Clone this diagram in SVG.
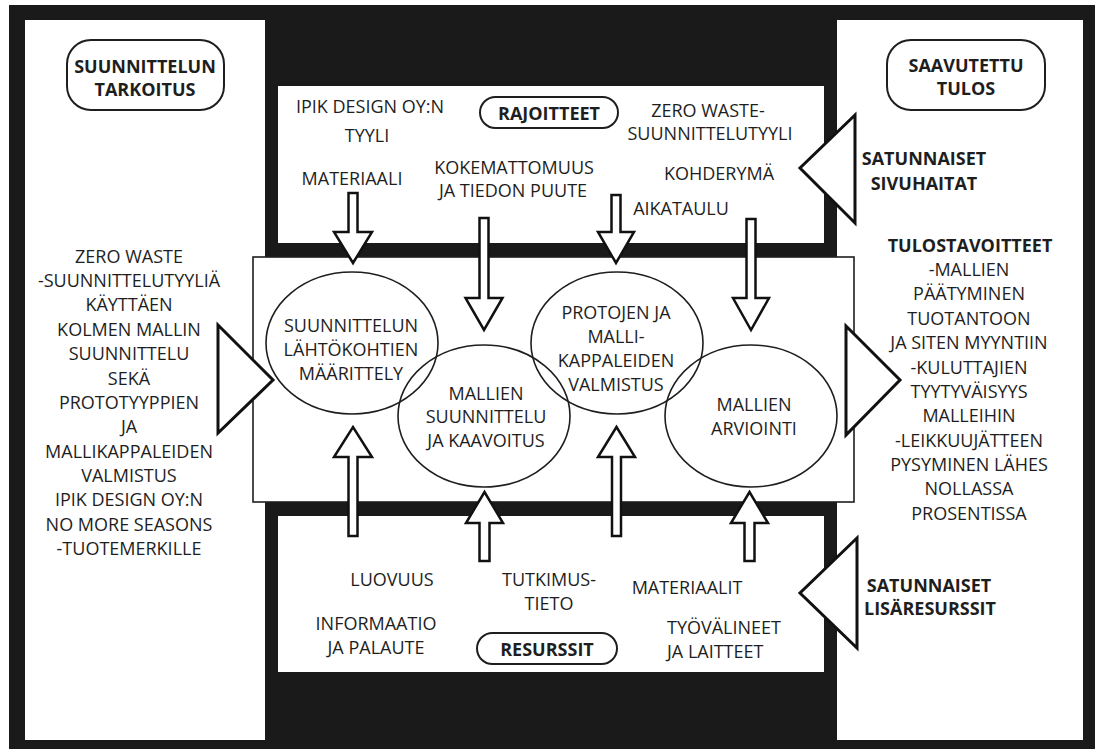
<svg xmlns="http://www.w3.org/2000/svg" width="1095" height="749" viewBox="0 0 1095 749">
<style>
.t{font-family:"Open Sans","Noto Sans","DejaVu Sans",sans-serif;font-size:18px;fill:#1e1e1e;text-anchor:middle}
.b{font-weight:bold}
.s{text-anchor:start}
.panel{fill:#fff}
.box{fill:none;stroke:#1e1e1e;stroke-width:2}
.ell{fill:none;stroke:#1e1e1e;stroke-width:1.6}
.tri{fill:#fff;stroke:#111;stroke-width:3;stroke-linejoin:miter}
.arr{fill:#fff;stroke:#111;stroke-width:2.5;stroke-linejoin:miter}
</style>
<rect x="9" y="5" width="1086" height="744" fill="#1a1a1a"/>
<g id="panels">
<rect class="panel" x="25" y="20" width="240" height="720"/>
<rect class="panel" x="837" y="20" width="246" height="720"/>
<rect class="panel" x="278" y="86" width="546" height="157"/>
<rect class="panel" x="278" y="516" width="546" height="156"/>
<rect x="253" y="257" width="601" height="245" fill="#fff" stroke="#1e1e1e" stroke-width="1.6"/>
</g>
<g id="purpose">
<rect class="box" x="67" y="40" width="157" height="70" rx="24"/>
<text class="t b" x="145" y="72.5">SUUNNITTELUN</text>
<text class="t b" x="145" y="95.5">TARKOITUS</text>
</g>
<g id="purpose-text">
<text class="t" x="129" y="262.5">ZERO WASTE<tspan x="129" dy="24.4">-SUUNNITTELUTYYLIÄ</tspan><tspan x="129" dy="24.4">KÄYTTÄEN</tspan><tspan x="129" dy="24.4">KOLMEN MALLIN</tspan><tspan x="129" dy="24.4">SUUNNITTELU</tspan><tspan x="129" dy="24.4">SEKÄ</tspan><tspan x="129" dy="24.4">PROTOTYYPPIEN</tspan><tspan x="129" dy="24.4">JA</tspan><tspan x="129" dy="24.4">MALLIKAPPALEIDEN</tspan><tspan x="129" dy="24.4">VALMISTUS</tspan><tspan x="129" dy="24.4">IPIK DESIGN OY:N</tspan><tspan x="129" dy="24.4">NO MORE SEASONS</tspan><tspan x="129" dy="24.4">-TUOTEMERKILLE</tspan></text>
</g>
<g id="result">
<rect class="box" x="887" y="40" width="158" height="70" rx="24"/>
<text class="t b" x="966" y="71.5">SAAVUTETTU</text>
<text class="t b" x="966" y="94.5">TULOS</text>
</g>
<g id="result-text">
<text class="t b" x="970" y="251.5">TULOSTAVOITTEET</text>
<text class="t" x="969" y="275.9">-MALLIEN<tspan x="969" dy="24.4">PÄÄTYMINEN</tspan><tspan x="969" dy="24.4">TUOTANTOON</tspan><tspan x="969" dy="24.4">JA SITEN MYYNTIIN</tspan><tspan x="969" dy="24.4">-KULUTTAJIEN</tspan><tspan x="969" dy="24.4">TYYTYVÄISYYS</tspan><tspan x="969" dy="24.4">MALLEIHIN</tspan><tspan x="969" dy="24.4">-LEIKKUUJÄTTEEN</tspan><tspan x="969" dy="24.4">PYSYMINEN LÄHES</tspan><tspan x="969" dy="24.4">NOLLASSA</tspan><tspan x="969" dy="24.4">PROSENTISSA</tspan></text>
</g>
<g id="constraints">
<rect class="box" x="480" y="97" width="138" height="31" rx="15.5"/>
<text class="t b" x="549" y="119.5">RAJOITTEET</text>
<text class="t" x="370" y="112.5">IPIK DESIGN OY:N</text>
<text class="t" x="367" y="141.5">TYYLI</text>
<text class="t" x="352" y="184.5">MATERIAALI</text>
<text class="t" x="708" y="116.5">ZERO WASTE-</text>
<text class="t" x="710" y="139.5">SUUNNITTELUTYYLI</text>
<text class="t" x="514" y="173.5">KOKEMATTOMUUS</text>
<text class="t" x="513" y="196.5">JA TIEDON PUUTE</text>
<text class="t" x="719" y="179.5">KOHDERYMÄ</text>
<text class="t" x="681" y="214.5">AIKATAULU</text>
</g>
<g id="resources">
<rect class="box" x="477" y="633" width="140" height="31" rx="15.5"/>
<text class="t b" x="547" y="655.5">RESURSSIT</text>
<text class="t" x="392" y="585.5">LUOVUUS</text>
<text class="t" x="376" y="629.5">INFORMAATIO</text>
<text class="t" x="376" y="653.5">JA PALAUTE</text>
<text class="t" x="549" y="585.5">TUTKIMUS-</text>
<text class="t" x="549" y="609.5">TIETO</text>
<text class="t" x="687" y="593.5">MATERIAALIT</text>
<text class="t s" x="667" y="633.5">TYÖVÄLINEET</text>
<text class="t s" x="667" y="657.5">JA LAITTEET</text>
</g>
<g id="phase1">
<ellipse class="ell" cx="352" cy="343" rx="86" ry="71"/>
<text class="t" x="351" y="331.5">SUUNNITTELUN<tspan x="351" dy="24">LÄHTÖKOHTIEN</tspan><tspan x="351" dy="24">MÄÄRITTELY</tspan></text>
</g>
<g id="phase2">
<ellipse class="ell" cx="484" cy="416" rx="86" ry="71"/>
<text class="t" x="486" y="399.5">MALLIEN<tspan x="486" dy="23.5">SUUNNITTELU</tspan><tspan x="486" dy="23.5">JA KAAVOITUS</tspan></text>
</g>
<g id="phase3">
<ellipse class="ell" cx="617" cy="343" rx="86" ry="71"/>
<text class="t" x="616" y="318.5">PROTOJEN JA<tspan x="616" dy="24">MALLI-</tspan><tspan x="616" dy="24">KAPPALEIDEN</tspan><tspan x="616" dy="24">VALMISTUS</tspan></text>
</g>
<g id="phase4">
<ellipse class="ell" cx="751" cy="416" rx="86" ry="71"/>
<text class="t" x="754" y="410.5">MALLIEN<tspan x="754" dy="24">ARVIOINTI</tspan></text>
</g>
<g id="side-effects">
<text class="t b" x="924" y="164.5">SATUNNAISET</text>
<text class="t b" x="924" y="189.5">SIVUHAITAT</text>
</g>
<g id="extra-resources">
<text class="t b" x="929" y="591.5">SATUNNAISET</text>
<text class="t b" x="930" y="614.5">LISÄRESURSSIT</text>
</g>
<g id="connectors">
<polygon class="tri" points="218,325 273,380 218,433"/>
<polygon class="tri" points="846,326 900,380 846,435"/>
<polygon class="tri" points="855,115 800,168 855,223"/>
<polygon class="tri" points="857,538 800,593 857,648"/>
<polygon class="arr" points="348.5,193 357.5,193 357.5,232 372,232 353,263 334,232 348.5,232"/>
<polygon class="arr" points="479.5,218 488.5,218 488.5,298 502.5,298 484,330 465.5,298 479.5,298"/>
<polygon class="arr" points="611.5,195 620.5,195 620.5,232 634,232 616,263 598,232 611.5,232"/>
<polygon class="arr" points="746.5,219 755.5,219 755.5,298 769,298 751,330 733,298 746.5,298"/>
<polygon class="arr" points="348.5,536 357.5,536 357.5,457 372,457 353,427 334,457 348.5,457"/>
<polygon class="arr" points="479.5,561 489.5,561 489.5,523 503,523 484.5,492 466,523 479.5,523"/>
<polygon class="arr" points="612,536 621,536 621,457 635,457 616.5,427 598,457 612,457"/>
<polygon class="arr" points="744.5,561 754.5,561 754.5,523 768,523 749.5,492 731,523 744.5,523"/>
</g>
</svg>
